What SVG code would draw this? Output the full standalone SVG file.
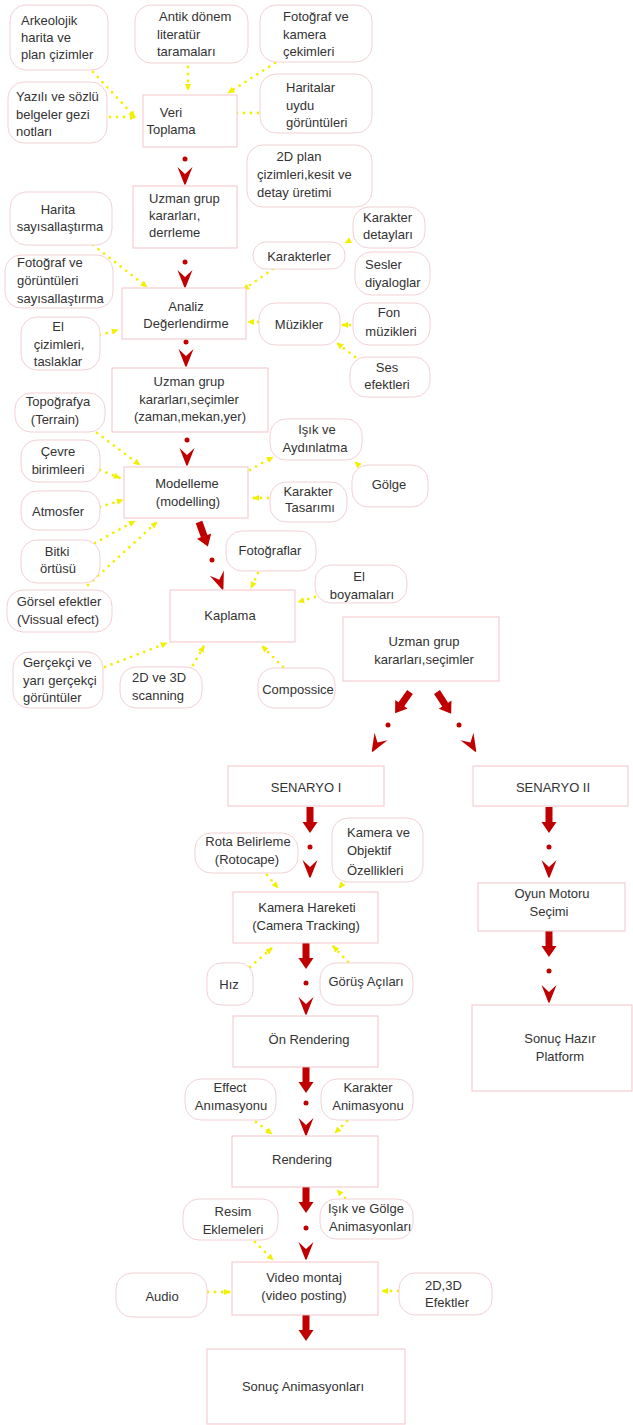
<svg xmlns="http://www.w3.org/2000/svg" xmlns:xlink="http://www.w3.org/1999/xlink" width="633" height="1425" viewBox="0 0 633 1425">
<style>
.box{fill:#fff;stroke:#f3c4ca;stroke-width:1}
.pill{fill:#fff;stroke:#f3d0d5;stroke-width:1}
text{font-family:"Liberation Sans",Arial,sans-serif;font-size:13px;fill:#333}
.c{text-anchor:middle}
.y{stroke:#f2ef00;stroke-width:2.8;stroke-dasharray:0 7;stroke-linecap:round;fill:none;marker-end:url(#ya)}
.red{fill:#c00000}
</style>
<defs>
<marker id="ya" viewBox="0 0 10 10" refX="9" refY="5" markerWidth="7" markerHeight="7" markerUnits="userSpaceOnUse" orient="auto"><path d="M0,0.5 L10,5 L0,9.5 Z" fill="#f2ef00"/></marker>
<path id="thick" d="M-3.5,0 H3.5 V15 H7.5 L0,26 L-7.5,15 H-3.5 Z" class="red"/>
<path id="chev" d="M-7.5,-18 L0,-11 L7.5,-18 L0.8,-1 L0,0 L-0.8,-1 Z" class="red"/>
<circle id="dot" r="2.5" class="red"/>
</defs>

<g id="connectors">
<g id="red-arrows">
<use href="#dot" x="185" y="159"/><use href="#chev" x="185" y="185"/>
<use href="#dot" x="185" y="262"/><use href="#chev" x="185" y="288"/>
<use href="#dot" x="186" y="342"/><use href="#chev" x="186" y="367"/>
<use href="#dot" x="187" y="440"/><use href="#chev" x="187" y="466"/>
<use href="#thick" transform="translate(199,522) rotate(-20)"/>
<use href="#dot" x="212" y="560"/>
<use href="#chev" transform="translate(223,590) rotate(-20)"/>
<use href="#thick" transform="translate(410,692) rotate(35)"/>
<use href="#dot" x="388" y="725"/>
<use href="#chev" transform="translate(372,752) rotate(30)"/>
<use href="#thick" transform="translate(437,692) rotate(-33)"/>
<use href="#dot" x="459" y="725"/>
<use href="#chev" transform="translate(476,752) rotate(-30)"/>
<use href="#thick" x="310" y="807"/><use href="#dot" x="310" y="847"/><use href="#chev" x="310" y="878"/>
<use href="#thick" x="306" y="943"/><use href="#dot" x="306" y="983"/><use href="#chev" x="306" y="1015"/>
<use href="#thick" x="549" y="807"/><use href="#dot" x="549" y="847"/><use href="#chev" x="549" y="878"/>
<use href="#thick" x="549" y="931"/><use href="#dot" x="549" y="971"/><use href="#chev" x="549" y="1003"/>
<use href="#thick" x="306" y="1067"/><use href="#dot" x="306" y="1103"/><use href="#chev" x="306" y="1136"/>
<use href="#thick" x="306" y="1187"/><use href="#dot" x="306" y="1228"/><use href="#chev" x="306" y="1260"/>
<use href="#thick" x="306" y="1315"/>
</g>
<g id="yellow-links">
<path class="y" d="M93,72 L135,117"/>
<path class="y" d="M110,117 L136,117"/>
<path class="y" d="M188,60 L188,90"/>
<path class="y" d="M275,63 L228,93"/>
<path class="y" d="M258,113 L230,113"/>
<path class="y" d="M93,245 L147,287"/>
<path class="y" d="M100,335 L118,330"/>
<path class="y" d="M273,269 L243,290"/>
<path class="y" d="M355,238 L345,243"/>
<path class="y" d="M258,322 L248,322"/>
<path class="y" d="M350,325 L342,325"/>
<path class="y" d="M355,357 L337,343"/>
<path class="y" d="M97,433 L140,465"/>
<path class="y" d="M100,470 L120,478"/>
<path class="y" d="M100,507 L123,500"/>
<path class="y" d="M95,543 L135,521"/>
<path class="y" d="M88,585 L157,522"/>
<path class="y" d="M250,470 L273,457"/>
<path class="y" d="M362,468 L355,462"/>
<path class="y" d="M268,498 L253,498"/>
<path class="y" d="M258,573 L251,588"/>
<path class="y" d="M315,597 L298,602"/>
<path class="y" d="M105,667 L167,643"/>
<path class="y" d="M193,665 L204,646"/>
<path class="y" d="M283,667 L262,646"/>
<path class="y" d="M267,875 L278,888"/>
<path class="y" d="M345,881 L339,888"/>
<path class="y" d="M250,967 L272,948"/>
<path class="y" d="M348,962 L333,946"/>
<path class="y" d="M256,1122 L272,1134"/>
<path class="y" d="M347,1121 L335,1133"/>
<path class="y" d="M345,1198 L337,1190"/>
<path class="y" d="M255,1242 L273,1260"/>
<path class="y" d="M208,1292 L230,1292"/>
<path class="y" d="M398,1291 L382,1291"/>
</g>
</g>

<g id="veri"><rect class="box" x="143" y="95" width="94" height="52"/><text class="c" x="171" y="117">Veri</text><text class="c" x="171" y="134">Toplama</text></g>
<g id="uzman1"><rect class="box" x="133" y="186" width="104" height="62"/><text x="149" y="203">Uzman grup</text><text x="149" y="220">kararları,</text><text x="149" y="237">derrleme</text></g>
<g id="analiz"><rect class="box" x="122" y="288" width="124" height="51"/><text class="c" x="186" y="311">Analiz</text><text class="c" x="186" y="328">Değerlendirme</text></g>
<g id="uzman2"><rect class="box" x="112" y="368" width="156" height="64"/><text class="c" x="189" y="386">Uzman grup</text><text class="c" x="189" y="404">kararları,seçimler</text><text class="c" x="190" y="421">(zaman,mekan,yer)</text></g>
<g id="modelleme"><rect class="box" x="124" y="467" width="124" height="51"/><text class="c" x="187" y="488">Modelleme</text><text class="c" x="188" y="506">(modelling)</text></g>
<g id="kaplama"><rect class="box" x="170" y="590" width="125" height="52"/><text class="c" x="230" y="620">Kaplama</text></g>
<g id="uzman3"><rect class="box" x="343" y="617" width="156" height="64"/><text class="c" x="424" y="646">Uzman grup</text><text class="c" x="424" y="664">kararları,seçimler</text></g>
<g id="senaryo1"><rect class="box" x="228" y="766" width="156" height="40"/><text class="c" x="306" y="792">SENARYO I</text></g>
<g id="senaryo2"><rect class="box" x="473" y="766" width="155" height="40"/><text class="c" x="553" y="792">SENARYO II</text></g>
<g id="kamera-hareketi"><rect class="box" x="233" y="892" width="145" height="51"/><text class="c" x="307" y="912">Kamera Hareketi</text><text class="c" x="306" y="930">(Camera Tracking)</text></g>
<g id="oyun"><rect class="box" x="478" y="883" width="147" height="48"/><text class="c" x="552" y="898">Oyun Motoru</text><text class="c" x="549" y="916">Seçimi</text></g>
<g id="on-rendering"><rect class="box" x="233" y="1016" width="145" height="51"/><text class="c" x="309" y="1044">Ön Rendering</text></g>
<g id="sonuc-hazir"><rect class="box" x="472" y="1005" width="160" height="86"/><text class="c" x="560" y="1043">Sonuç Hazır</text><text class="c" x="560" y="1061">Platform</text></g>
<g id="rendering"><rect class="box" x="232" y="1136" width="146" height="51"/><text class="c" x="302" y="1164">Rendering</text></g>
<g id="video"><rect class="box" x="232" y="1262" width="146" height="53"/><text class="c" x="304" y="1282">Video montaj</text><text class="c" x="304" y="1300">(video posting)</text></g>
<g id="sonuc-anim"><rect class="box" x="207" y="1349" width="198" height="75"/><text class="c" x="303" y="1391">Sonuç Animasyonları</text></g>

<g id="arkeolojik"><rect class="pill" x="10" y="5" width="98" height="65" rx="16"/><text x="21" y="25">Arkeolojik</text><text x="21" y="42">harita ve</text><text x="21" y="59">plan çizimler</text></g>
<g id="antik"><rect class="pill" x="135" y="5" width="113" height="58" rx="16"/><text x="159" y="21">Antik dönem</text><text x="157" y="38.5">literatür</text><text x="157" y="56">taramaları</text></g>
<g id="fotograf-kamera"><rect class="pill" x="260" y="5" width="112" height="57" rx="16"/><text x="283" y="21">Fotoğraf ve</text><text x="283" y="38.5">kamera</text><text x="283" y="56">çekimleri</text></g>
<g id="yazili"><rect class="pill" x="8" y="82" width="99" height="61" rx="16"/><text x="16" y="101">Yazılı ve sözlü</text><text x="16" y="118.5">belgeler gezi</text><text x="16" y="136">notları</text></g>
<g id="haritalar"><rect class="pill" x="260" y="74" width="112" height="59" rx="16"/><text x="286" y="92">Haritalar</text><text x="286" y="110">uydu</text><text x="286" y="127">görüntüleri</text></g>
<g id="plan2d"><rect class="pill" x="247" y="145" width="125" height="62" rx="16"/><text class="c" x="299" y="161">2D plan</text><text x="257" y="179">çizimleri,kesit ve</text><text x="257" y="197">detay üretimi</text></g>
<g id="harita-sayisal"><rect class="pill" x="10" y="192" width="102" height="53" rx="16"/><text class="c" x="58" y="214">Harita</text><text class="c" x="60" y="231">sayısallaştırma</text></g>
<g id="fotograf-sayisal"><rect class="pill" x="5" y="255" width="108" height="53" rx="16"/><text x="17" y="267">Fotoğraf ve</text><text x="17" y="285">görüntüleri</text><text x="17" y="303">sayısallaştırma</text></g>
<g id="el-cizimleri"><rect class="pill" x="21" y="317" width="79" height="53" rx="16"/><text class="c" x="58" y="331">El</text><text class="c" x="59" y="349">çizimleri,</text><text class="c" x="58" y="366">taslaklar</text></g>
<g id="karakterler"><rect class="pill" x="253" y="242" width="92" height="27" rx="13"/><text class="c" x="299" y="261">Karakterler</text></g>
<g id="karakter-detay"><rect class="pill" x="353" y="207" width="72" height="41" rx="16"/><text x="363" y="222">Karakter</text><text x="363" y="239">detayları</text></g>
<g id="sesler"><rect class="pill" x="355" y="252" width="75" height="43" rx="16"/><text x="365" y="269">Sesler</text><text x="365" y="287">diyaloglar</text></g>
<g id="muzikler"><rect class="pill" x="259" y="303" width="81" height="42" rx="16"/><text class="c" x="299" y="329">Müzikler</text></g>
<g id="fon"><rect class="pill" x="353" y="303" width="77" height="42" rx="16"/><text class="c" x="389" y="317">Fon</text><text class="c" x="391" y="336">müzikleri</text></g>
<g id="ses-efekt"><rect class="pill" x="350" y="357" width="80" height="40" rx="16"/><text class="c" x="387" y="372">Ses</text><text class="c" x="387" y="389">efektleri</text></g>
<g id="topografya"><rect class="pill" x="15" y="393" width="90" height="39" rx="16"/><text class="c" x="58" y="406">Topoğrafya</text><text class="c" x="55" y="424">(Terrain)</text></g>
<g id="cevre"><rect class="pill" x="21" y="440" width="79" height="42" rx="16"/><text class="c" x="58" y="456">Çevre</text><text class="c" x="58" y="474">birimleeri</text></g>
<g id="atmosfer"><rect class="pill" x="21" y="491" width="79" height="39" rx="16"/><text class="c" x="58" y="516">Atmosfer</text></g>
<g id="bitki"><rect class="pill" x="21" y="540" width="79" height="43" rx="16"/><text class="c" x="57" y="556">Bitki</text><text class="c" x="58" y="573">örtüsü</text></g>
<g id="gorsel"><rect class="pill" x="7" y="590" width="105" height="42" rx="16"/><text class="c" x="59" y="606">Görsel efektler</text><text class="c" x="58" y="624">(Vissual efect)</text></g>
<g id="gercekci"><rect class="pill" x="13" y="652" width="90" height="56" rx="16"/><text x="23" y="667">Gerçekçi ve</text><text x="23" y="685">yarı gerçekçi</text><text x="23" y="702">görüntüler</text></g>
<g id="scanning"><rect class="pill" x="120" y="667" width="82" height="41" rx="16"/><text x="132" y="682">2D ve 3D</text><text x="132" y="700">scanning</text></g>
<g id="compossice"><rect class="pill" x="258" y="668" width="77" height="40" rx="16"/><text class="c" x="298" y="694">Compossice</text></g>
<g id="isik"><rect class="pill" x="270" y="419" width="92" height="41" rx="16"/><text class="c" x="317" y="434">Işık ve</text><text class="c" x="315" y="452">Aydınlatma</text></g>
<g id="golge"><rect class="pill" x="352" y="465" width="76" height="42" rx="16"/><text class="c" x="389" y="489">Gölge</text></g>
<g id="karakter-tasarimi"><rect class="pill" x="270" y="482" width="77" height="40" rx="16"/><text class="c" x="308" y="496">Karakter</text><text class="c" x="310" y="512">Tasarımı</text></g>
<g id="fotograflar"><rect class="pill" x="226" y="531" width="90" height="40" rx="16"/><text class="c" x="270" y="555">Fotoğraflar</text></g>
<g id="el-boyama"><rect class="pill" x="315" y="565" width="92" height="38" rx="16"/><text class="c" x="359" y="581">El</text><text class="c" x="362" y="599">boyamaları</text></g>
<g id="rota"><rect class="pill" x="195" y="833" width="103" height="40" rx="16"/><text class="c" x="248" y="846">Rota Belirleme</text><text class="c" x="247" y="864">(Rotocape)</text></g>
<g id="kamera-objektif"><rect class="pill" x="332" y="818" width="91" height="64" rx="16"/><text x="347" y="837">Kamera ve</text><text x="347" y="855">Objektif</text><text x="347" y="875">Özellikleri</text></g>
<g id="hiz"><rect class="pill" x="207" y="963" width="46" height="42" rx="14"/><text class="c" x="229" y="989">Hız</text></g>
<g id="gorus"><rect class="pill" x="320" y="963" width="93" height="42" rx="16"/><text class="c" x="366" y="986">Görüş Açıları</text></g>
<g id="effect-anim"><rect class="pill" x="185" y="1079" width="91" height="41" rx="16"/><text class="c" x="230" y="1092">Effect</text><text class="c" x="231" y="1110">Anımasyonu</text></g>
<g id="karakter-anim"><rect class="pill" x="321" y="1079" width="92" height="41" rx="16"/><text class="c" x="368" y="1092">Karakter</text><text class="c" x="368" y="1110">Animasyonu</text></g>
<g id="resim"><rect class="pill" x="183" y="1199" width="95" height="41" rx="16"/><text class="c" x="233" y="1216">Resim</text><text class="c" x="233" y="1234">Eklemeleri</text></g>
<g id="isik-golge-anim"><rect class="pill" x="320" y="1199" width="93" height="40" rx="16"/><text x="328" y="1213">Işık ve Gölge</text><text x="329" y="1231">Animasyonları</text></g>
<g id="audio"><rect class="pill" x="116" y="1273" width="91" height="44" rx="16"/><text class="c" x="162" y="1301">Audio</text></g>
<g id="efektler"><rect class="pill" x="399" y="1273" width="93" height="42" rx="16"/><text x="425" y="1290">2D,3D</text><text x="425" y="1307">Efektler</text></g>
</svg>
